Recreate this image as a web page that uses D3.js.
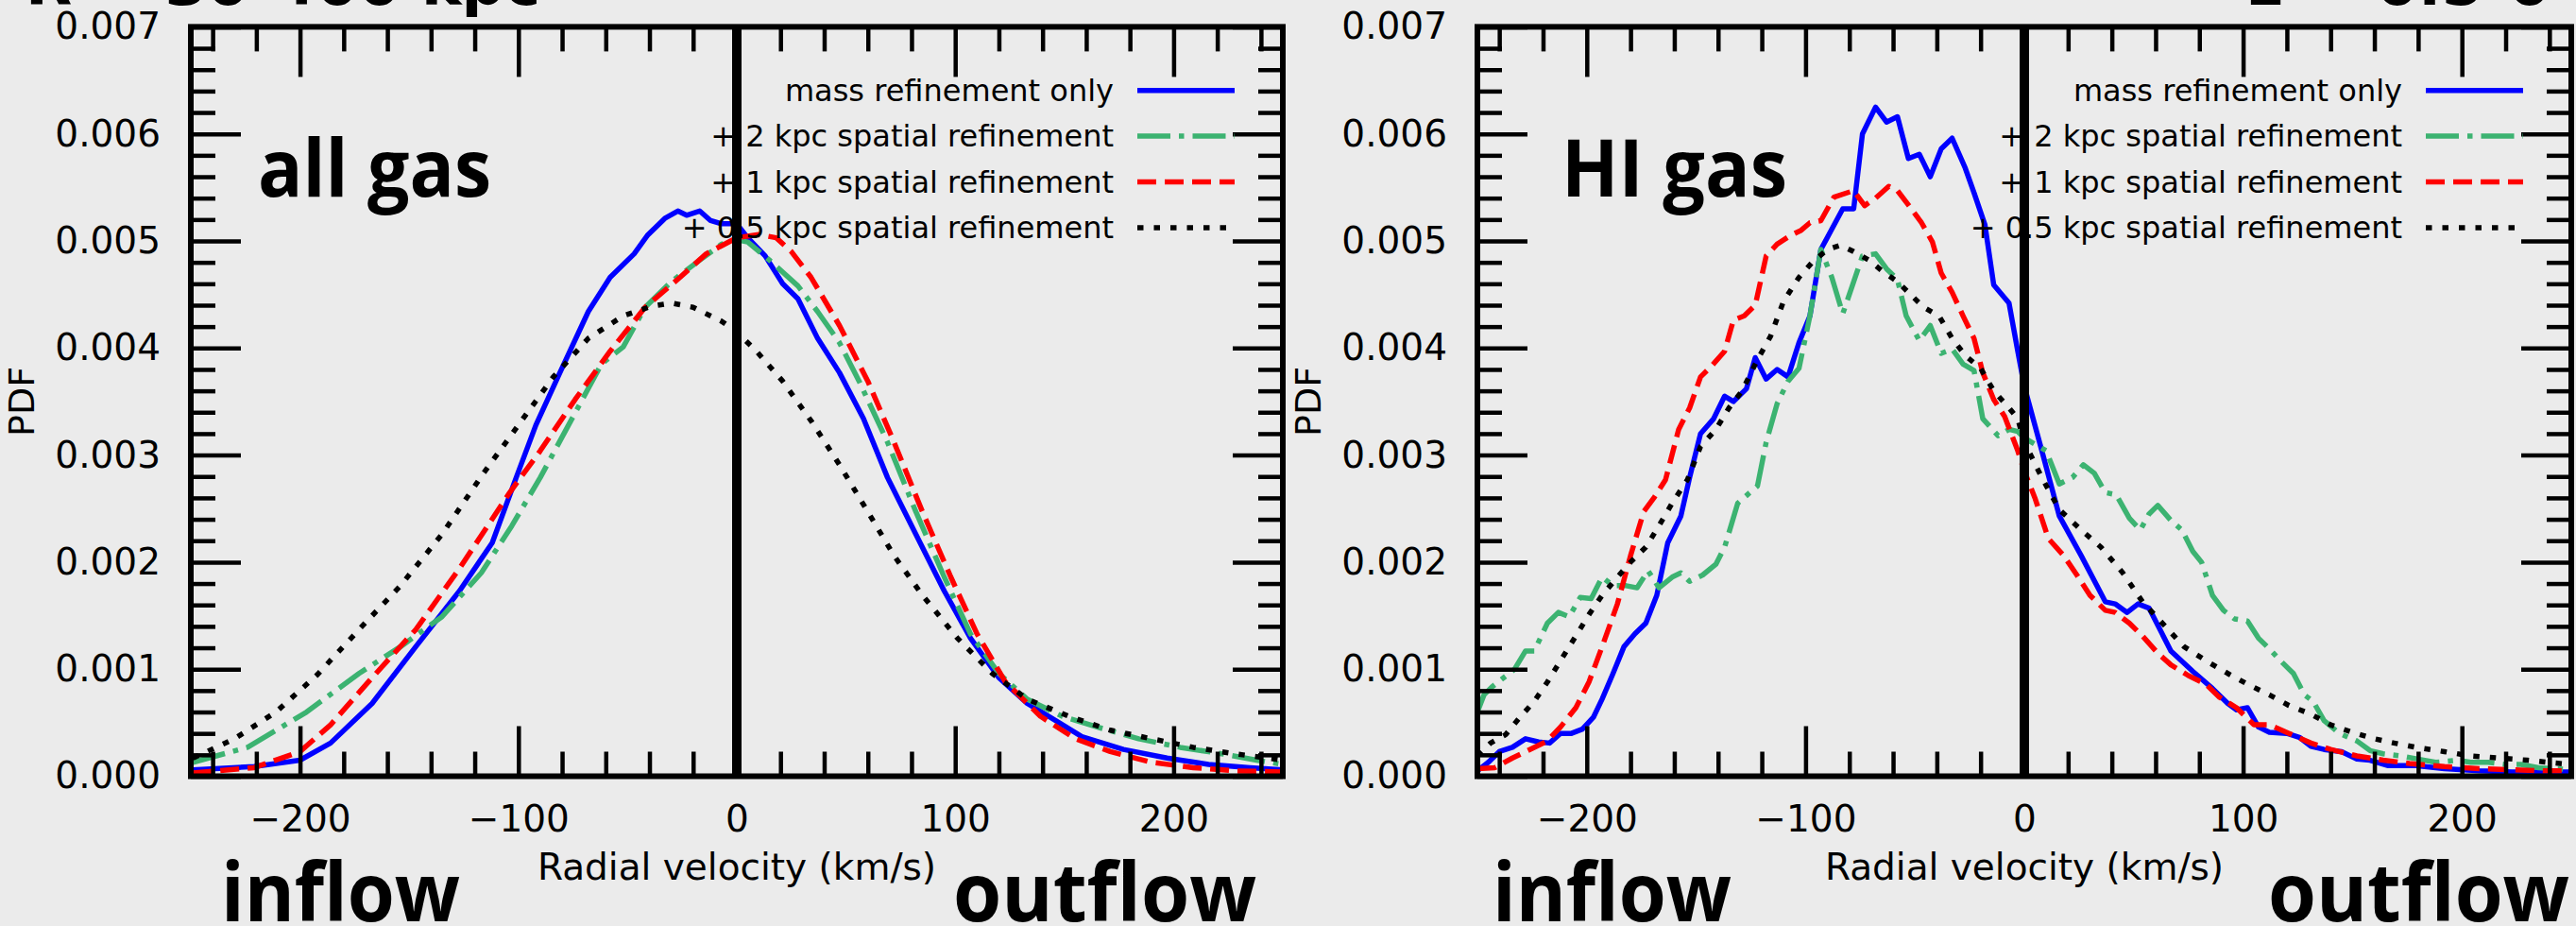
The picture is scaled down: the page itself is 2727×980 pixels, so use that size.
<!DOCTYPE html>
<html>
<head>
<meta charset="utf-8">
<script src="https://cdn.jsdelivr.net/npm/d3@7"></script>
<style>
  html, body { margin: 0; padding: 0; background: #ebebeb; }
  svg { display: block; }
</style>
</head>
<body>
<script>
// ---------- data ----------
const velocityTicks = [-200, -100, 0, 100, 200];
const pdfTicks = [0, 0.001, 0.002, 0.003, 0.004, 0.005, 0.006, 0.007];
const seriesNames = [
  "mass refinement only",
  "+ 2 kpc spatial refinement",
  "+ 1 kpc spatial refinement",
  "+ 0.5 kpc spatial refinement"
];
const panelLabels = ["all gas", "HI gas"];
const titleLeft = "R = 30-400 kpc";
const titleRight = "z = 0.5-0";

// all gas, [radial velocity km/s, PDF]
const allMass = [[-249,0.00006],[-221,0.00009],[-200,0.00015],[-186,0.00031],[-167,0.00068],[-147,0.00121],[-127,0.00173],[-112,0.00218],[-101,0.00279],[-92,0.00328],[-81,0.00377],[-68,0.00434],[-58,0.00466],[-47,0.00488],[-41,0.00505],[-33,0.00521],[-27,0.00528],[-23,0.00524],[-17,0.00528],[-12,0.00519],[-7,0.00516],[0,0.00516],[5,0.00503],[13,0.00486],[21,0.00460],[28,0.00446],[37,0.00409],[47,0.00377],[58,0.00334],[69,0.00279],[82,0.00226],[95,0.00173],[107,0.00129],[120,0.00092],[133,0.00068],[146,0.00052],[158,0.00037],[177,0.00025],[197,0.00017],[216,0.00011],[235,0.00008],[250,0.00006]];
const all2kpc = [[-249,0.00013],[-224,0.00027],[-197,0.00060],[-173,0.00096],[-154,0.00121],[-135,0.00149],[-117,0.00190],[-103,0.00234],[-90,0.00279],[-76,0.00332],[-62,0.00385],[-52,0.00401],[-42,0.00438],[-30,0.00462],[-17,0.00482],[-7,0.00497],[0,0.00501],[5,0.00499],[15,0.00482],[28,0.00458],[37,0.00434],[47,0.00405],[56,0.00369],[69,0.00312],[82,0.00247],[95,0.00186],[107,0.00133],[120,0.00096],[133,0.00072],[149,0.00056],[165,0.00046],[184,0.00035],[203,0.00027],[222,0.00021],[238,0.00015],[250,0.00011]];
const all1kpc = [[-249,0.00003],[-221,0.00008],[-200,0.00023],[-186,0.00048],[-167,0.00092],[-147,0.00137],[-127,0.00194],[-104,0.00265],[-90,0.00304],[-74,0.00352],[-58,0.00397],[-42,0.00438],[-26,0.00466],[-14,0.00488],[0,0.00503],[10,0.00506],[18,0.00503],[25,0.00490],[34,0.00466],[47,0.00421],[60,0.00369],[72,0.00312],[85,0.00247],[98,0.00186],[110,0.00133],[123,0.00088],[139,0.00056],[155,0.00035],[171,0.00023],[190,0.00013],[209,0.00008],[228,0.00005],[250,0.00004]];
const all05kpc = [[-249,0.00017],[-230,0.00035],[-211,0.00060],[-192,0.00095],[-173,0.00137],[-154,0.00178],[-135,0.00226],[-116,0.00283],[-100,0.00328],[-84,0.00373],[-68,0.00409],[-52,0.00430],[-39,0.00439],[-30,0.00442],[-20,0.00438],[-7,0.00425],[0,0.00415],[9,0.00397],[21,0.00369],[34,0.00332],[47,0.00291],[60,0.00247],[72,0.00206],[85,0.00169],[101,0.00129],[117,0.00096],[133,0.00072],[152,0.00056],[171,0.00043],[190,0.00035],[209,0.00027],[228,0.00021],[250,0.00015]];

// HI gas, [radial velocity km/s, PDF]
const hiMass = [[-250,0.00005],[-245,0.00013],[-240,0.00023],[-234,0.00027],[-228,0.00035],[-222,0.00032],[-217,0.00031],[-212,0.00040],[-207,0.00040],[-202,0.00044],[-197,0.00055],[-193,0.00072],[-188,0.00096],[-183,0.00121],[-178,0.00133],[-173,0.00143],[-168,0.00169],[-163,0.00218],[-157,0.00243],[-153,0.00279],[-148,0.00320],[-142,0.00334],[-137,0.00355],[-133,0.00350],[-127,0.00362],[-123,0.00391],[-118,0.00371],[-113,0.00380],[-108,0.00373],[-103,0.00405],[-98,0.00430],[-93,0.00492],[-88,0.00511],[-83,0.00530],[-78,0.00530],[-74,0.00600],[-68,0.00625],[-63,0.00611],[-58,0.00616],[-53,0.00577],[-48,0.00581],[-43,0.00560],[-38,0.00586],[-33,0.00596],[-27,0.00568],[-23,0.00545],[-18,0.00515],[-14,0.00459],[-7,0.00442],[-3,0.00397],[0,0.00364],[8,0.00304],[16,0.00243],[26,0.00206],[37,0.00163],[41.5,0.00161],[47,0.00153],[52,0.00161],[57,0.00157],[67,0.00117],[77,0.00098],[86,0.00082],[93,0.00068],[97,0.00062],[102,0.00064],[107,0.00046],[112,0.00041],[120,0.00040],[126,0.00036],[131,0.00028],[137,0.00025],[145,0.00023],[152,0.00016],[158,0.00015],[166,0.00010],[179,0.00010],[192,0.00007],[208,0.00005],[223,0.00004],[239,0.00004],[250,0.00004]];
const hi2kpc = [[-250,0.00060],[-247,0.00076],[-243,0.00084],[-238,0.00092],[-233,0.00100],[-228,0.00117],[-224,0.00117],[-218,0.00143],[-213,0.00153],[-208,0.00149],[-203,0.00167],[-198,0.00166],[-193,0.00186],[-188,0.00178],[-182,0.00178],[-177,0.00176],[-172,0.00192],[-167,0.00176],[-161,0.00186],[-157,0.00190],[-153,0.00182],[-147,0.00188],[-141,0.00198],[-137,0.00214],[-131,0.00255],[-126,0.00264],[-122,0.00271],[-118,0.00312],[-113,0.00348],[-108,0.00369],[-103,0.00381],[-98,0.00430],[-93,0.00492],[-88,0.00466],[-83,0.00432],[-78,0.00462],[-74,0.00486],[-68,0.00488],[-63,0.00474],[-58,0.00464],[-54,0.00430],[-48,0.00407],[-43,0.00421],[-38,0.00395],[-33,0.00399],[-28,0.00385],[-23,0.00379],[-19,0.00334],[-12,0.00318],[-7,0.00324],[-3,0.00322],[0,0.00316],[10,0.00304],[16,0.00273],[22,0.00279],[27,0.00291],[32,0.00283],[37,0.00265],[42,0.00263],[48,0.00241],[53,0.00230],[57,0.00245],[61,0.00253],[67,0.00239],[72,0.00230],[77,0.00210],[81,0.00200],[86,0.00169],[91,0.00155],[96,0.00147],[102,0.00145],[107,0.00129],[112,0.00119],[118,0.00106],[123,0.00096],[128,0.00076],[132,0.00070],[137,0.00052],[144,0.00040],[152,0.00033],[158,0.00024],[164,0.00021],[172,0.00019],[180,0.00016],[188,0.00013],[198,0.00015],[204,0.00013],[212,0.00013],[220,0.00011],[227,0.00011],[235,0.00008],[243,0.00007],[250,0.00006]];
const hi1kpc = [[-250,0.00007],[-242,0.00008],[-234,0.00017],[-226,0.00025],[-218,0.00033],[-212,0.00046],[-205,0.00064],[-199,0.00088],[-193,0.00121],[-186,0.00161],[-180,0.00206],[-174,0.00247],[-169,0.00261],[-164,0.00277],[-158,0.00324],[-153,0.00344],[-148,0.00373],[-143,0.00383],[-137,0.00397],[-133,0.00426],[-128,0.00430],[-123,0.00440],[-118,0.00486],[-113,0.00497],[-107,0.00505],[-102,0.00510],[-98,0.00517],[-93,0.00519],[-87,0.00541],[-78,0.00547],[-73,0.00533],[-68,0.00540],[-62,0.00551],[-58,0.00547],[-52,0.00531],[-47,0.00517],[-42,0.00499],[-38,0.00470],[-33,0.00452],[-28,0.00430],[-23,0.00409],[-19,0.00377],[-14,0.00352],[-9,0.00336],[-3,0.00304],[0,0.00285],[5,0.00259],[11,0.00222],[18,0.00206],[24,0.00188],[30,0.00169],[37,0.00155],[41.5,0.00153],[48,0.00143],[54,0.00131],[61,0.00115],[67,0.00104],[75,0.00094],[83,0.00086],[89,0.00074],[97,0.00064],[105,0.00048],[112,0.00048],[121,0.00040],[131,0.00031],[140,0.00025],[152,0.00019],[164,0.00015],[176,0.00012],[192,0.00009],[208,0.00007],[223,0.00006],[239,0.00005],[250,0.00005]];
const hi05kpc = [[-250,0.00019],[-244,0.00031],[-237,0.00039],[-231,0.00054],[-224,0.00070],[-218,0.00088],[-212,0.00108],[-205,0.00131],[-199,0.00151],[-193,0.00169],[-186,0.00186],[-180,0.00200],[-173,0.00214],[-167,0.00234],[-161,0.00255],[-154,0.00277],[-148,0.00308],[-141,0.00324],[-135,0.00344],[-129,0.00360],[-122,0.00389],[-116,0.00411],[-110,0.00444],[-103,0.00466],[-97,0.00480],[-90,0.00492],[-84,0.00496],[-78,0.00490],[-71,0.00482],[-65,0.00472],[-58,0.00462],[-52,0.00450],[-46,0.00438],[-39,0.00430],[-33,0.00409],[-27,0.00393],[-20,0.00381],[-14,0.00360],[-7,0.00344],[-3,0.00334],[0,0.00312],[8,0.00279],[16,0.00249],[26,0.00230],[35,0.00214],[45,0.00190],[54,0.00163],[64,0.00141],[73,0.00121],[83,0.00108],[93,0.00096],[102,0.00086],[112,0.00076],[121,0.00066],[131,0.00058],[140,0.00048],[150,0.00041],[160,0.00035],[169,0.00031],[179,0.00027],[192,0.00023],[204,0.00019],[217,0.00017],[230,0.00015],[239,0.00013],[250,0.00011]];

// ---------- styling ----------
const W = 2727, H = 980;
const BG = "#ebebeb";
const LW = 5.5;
const seriesStyles = [
  { color: "#0000ff", dash: null },
  { color: "#3cb371", dash: [35, 9, 5.5, 9] },
  { color: "#ff0000", dash: [20, 9] },
  { color: "#000000", dash: [6.5, 11] }
];
const yTop = 28.4, yBot = 821.5;
const panels = [
  { x0: 202, x1: 1358, label: panelLabels[0], labelX: 273, labelW: 247,
    inflowX: 234, inflowW: 253, outflowX: 1009, outflowW: 321,
    series: [allMass, all2kpc, all1kpc, all05kpc] },
  { x0: 1564, x1: 2722, label: panelLabels[1], labelX: 1653, labelW: 239,
    inflowX: 1580, inflowW: 253, outflowX: 2401, outflowW: 319,
    series: [hiMass, hi2kpc, hi1kpc, hi05kpc] }
];
const SANS = "'DejaVu Sans', sans-serif";
const DISPLAY = "'Open Sans', 'DejaVu Sans', sans-serif";

const svg = d3.select("body").append("svg")
  .attr("width", W).attr("height", H)
  .attr("viewBox", `0 0 ${W} ${H}`);
svg.append("rect").attr("width", W).attr("height", H).attr("fill", BG);

// figure titles (run off the top edge)
svg.append("text").attr("x", 27).attr("y", 5)
  .attr("font-family", SANS).attr("font-weight", "bold").attr("font-size", 64)
  .text(titleLeft);
svg.append("text").attr("x", 2700).attr("y", 5).attr("text-anchor", "end")
  .attr("font-family", SANS).attr("font-weight", "bold").attr("font-size", 64)
  .text(titleRight);

const fmtVel = d3.format("d");
const fmtPdf = d3.format(".3f");

panels.forEach((p, pi) => {
  const x = d3.scaleLinear().domain([-250, 250]).range([p.x0, p.x1]);
  const y = d3.scaleLinear().domain([0, 0.007]).range([yBot, yTop]);
  const g = svg.append("g");

  const clipId = "clip" + pi;
  g.append("clipPath").attr("id", clipId).append("rect")
    .attr("x", p.x0).attr("y", yTop).attr("width", p.x1 - p.x0).attr("height", yBot - yTop);

  // curves
  const line = d3.line().x(d => x(d[0])).y(d => y(d[1]));
  const curves = g.append("g").attr("clip-path", `url(#${clipId})`);
  p.series.forEach((s, i) => {
    const st = seriesStyles[i];
    curves.append("path").datum(s)
      .attr("d", line)
      .attr("fill", "none")
      .attr("stroke", st.color)
      .attr("stroke-width", LW)
      .attr("stroke-linejoin", "round")
      .attr("stroke-dasharray", st.dash ? st.dash.join(",") : null);
  });

  // zero-velocity divider
  g.append("line")
    .attr("x1", x(0)).attr("x2", x(0)).attr("y1", yTop).attr("y2", yBot)
    .attr("stroke", "#000").attr("stroke-width", 10);

  // ticks: inward, on all four sides
  const minorX = d3.range(-240, 250, 20).filter(v => v % 100 !== 0);
  const minorY = d3.range(1, 35).map(k => k * 0.0002).filter((v, k) => (k + 1) % 5 !== 0);
  const MAJ = 53, MIN = 26, TW = 4.5;

  const axes = [
    g.append("g").attr("transform", `translate(0,${yBot})`)
      .call(d3.axisBottom(x).tickValues(velocityTicks).tickSize(-MAJ).tickPadding(31).tickFormat(fmtVel)),
    g.append("g").attr("transform", `translate(0,${yBot})`)
      .call(d3.axisBottom(x).tickValues(minorX).tickSize(-MIN).tickFormat("")),
    g.append("g").attr("transform", `translate(0,${yTop})`)
      .call(d3.axisTop(x).tickValues(velocityTicks).tickSize(-MAJ).tickFormat("")),
    g.append("g").attr("transform", `translate(0,${yTop})`)
      .call(d3.axisTop(x).tickValues(minorX).tickSize(-MIN).tickFormat("")),
    g.append("g").attr("transform", `translate(${p.x0},0)`)
      .call(d3.axisLeft(y).tickValues(pdfTicks).tickSize(-MAJ).tickPadding(32).tickFormat(fmtPdf)),
    g.append("g").attr("transform", `translate(${p.x0},0)`)
      .call(d3.axisLeft(y).tickValues(minorY).tickSize(-MIN).tickFormat("")),
    g.append("g").attr("transform", `translate(${p.x1},0)`)
      .call(d3.axisRight(y).tickValues(pdfTicks).tickSize(-MAJ).tickFormat("")),
    g.append("g").attr("transform", `translate(${p.x1},0)`)
      .call(d3.axisRight(y).tickValues(minorY).tickSize(-MIN).tickFormat(""))
  ];
  axes.forEach(a => {
    a.select(".domain").remove();
    a.selectAll(".tick line").attr("stroke", "#000").attr("stroke-width", TW);
    a.selectAll(".tick text").attr("font-family", SANS).attr("font-size", 39).attr("fill", "#000");
  });

  // frame
  g.append("rect")
    .attr("x", p.x0).attr("y", yTop).attr("width", p.x1 - p.x0).attr("height", yBot - yTop)
    .attr("fill", "none").attr("stroke", "#000").attr("stroke-width", 6);

  // axis titles
  g.append("text")
    .attr("x", (p.x0 + p.x1) / 2).attr("y", 931).attr("text-anchor", "middle")
    .attr("font-family", SANS).attr("font-size", 39)
    .text("Radial velocity (km/s)");
  g.append("text")
    .attr("transform", `translate(${p.x0 - 166},${(yTop + yBot) / 2}) rotate(-90)`)
    .attr("text-anchor", "middle")
    .attr("font-family", SANS).attr("font-size", 38)
    .text("PDF");

  // panel label
  g.append("text")
    .attr("x", p.labelX).attr("y", 208)
    .attr("font-family", DISPLAY).attr("font-weight", "bold").attr("font-size", 84)
    .attr("textLength", p.labelW).attr("lengthAdjust", "spacingAndGlyphs")
    .text(p.label);

  // flow direction labels
  g.append("text")
    .attr("x", p.inflowX).attr("y", 975)
    .attr("font-family", DISPLAY).attr("font-weight", "bold").attr("font-size", 86)
    .attr("textLength", p.inflowW).attr("lengthAdjust", "spacingAndGlyphs")
    .text("inflow");
  g.append("text")
    .attr("x", p.outflowX).attr("y", 975)
    .attr("font-family", DISPLAY).attr("font-weight", "bold").attr("font-size", 86)
    .attr("textLength", p.outflowW).attr("lengthAdjust", "spacingAndGlyphs")
    .text("outflow");

  // legend
  const legRows = [95.7, 144.1, 192.5, 240.9];
  const leg = g.append("g");
  seriesNames.forEach((name, i) => {
    const st = seriesStyles[i];
    leg.append("text")
      .attr("x", p.x1 - 179).attr("y", legRows[i] + 11)
      .attr("text-anchor", "end")
      .attr("font-family", SANS).attr("font-size", 32)
      .text(name);
    leg.append("line")
      .attr("x1", p.x1 - 154).attr("x2", p.x1 - 51)
      .attr("y1", legRows[i]).attr("y2", legRows[i])
      .attr("stroke", st.color).attr("stroke-width", LW)
      .attr("stroke-dasharray", st.dash ? st.dash.join(",") : null);
  });
});
</script>
</body>
</html>
